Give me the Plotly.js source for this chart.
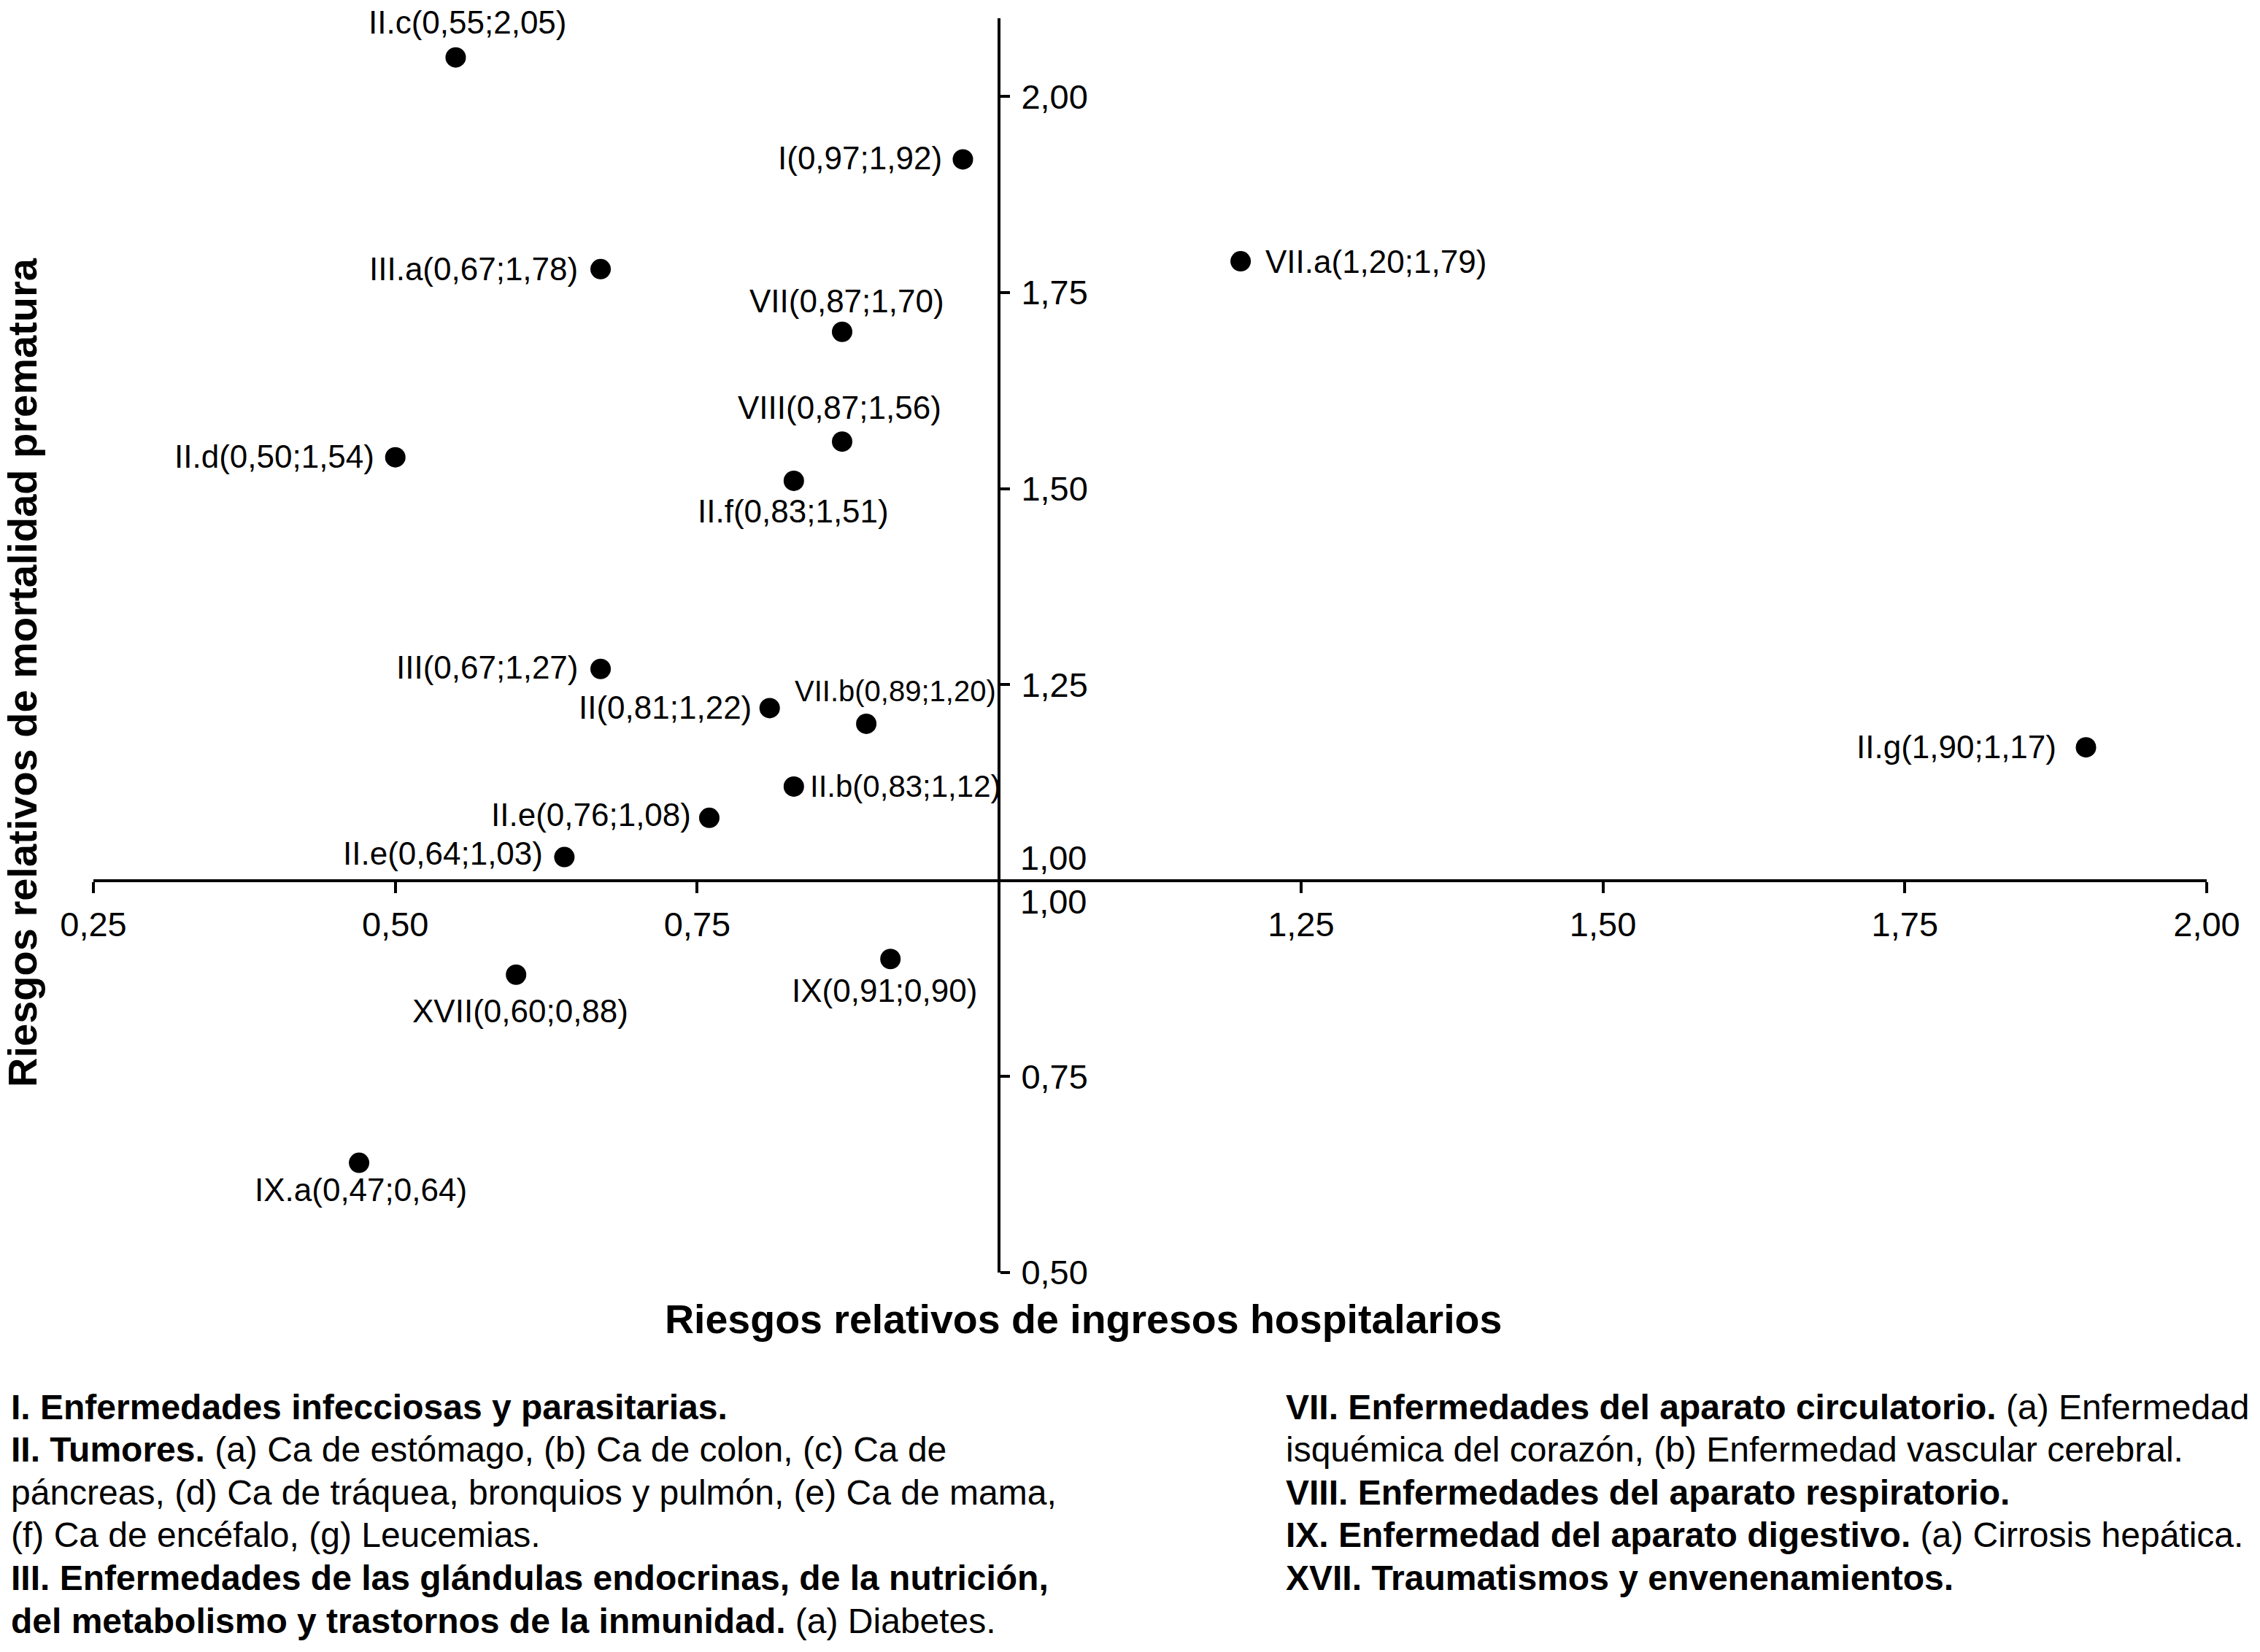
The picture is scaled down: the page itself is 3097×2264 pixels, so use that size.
<!DOCTYPE html>
<html>
<head>
<meta charset="utf-8">
<script src="https://cdn.plot.ly/plotly-3.0.1.min.js"></script>
<style>html,body{margin:0;padding:0;background:#fff;}#chart{width:3097px;height:2264px;}</style>
</head>
<body>
<div id="chart"></div>
<script>
// ---- data ----
const codes = ['II.c','I','III.a','VII','VIII','II.d','II.f','III','II','VII.b','II.b','II.e','II.e','VII.a','II.g','XVII','IX','IX.a'];
const ingresos = [0.55,0.97,0.67,0.87,0.87,0.50,0.83,0.67,0.81,0.89,0.83,0.76,0.64,1.20,1.90,0.60,0.91,0.47];
const mortalidad = [2.05,1.92,1.78,1.70,1.56,1.54,1.51,1.27,1.22,1.20,1.12,1.08,1.03,1.79,1.17,0.88,0.90,0.64];
const xTickVals = [0.25,0.50,0.75,1.25,1.50,1.75,2.00];
const xTickText = ['0,25','0,50','0,75','1,25','1,50','1,75','2,00'];
const yTickVals = [0.50,0.75,1.25,1.50,1.75,2.00];
const yTickText = ['0,50','0,75','1,25','1,50','1,75','2,00'];
const crossLabel = '1,00';
const xTitle = 'Riesgos relativos de ingresos hospitalarios';
const yTitle = 'Riesgos relativos de mortalidad prematura';
const notesLeft = [
  '<b>I. Enfermedades infecciosas y parasitarias.</b>',
  '<b>II. Tumores.</b> (a) Ca de estómago, (b) Ca de colon, (c) Ca de',
  'páncreas, (d) Ca de tráquea, bronquios y pulmón, (e) Ca de mama,',
  '(f) Ca de encéfalo, (g) Leucemias.',
  '<b>III. Enfermedades de las glándulas endocrinas, de la nutrición,</b>',
  '<b>del metabolismo y trastornos de la inmunidad.</b> (a) Diabetes.'
];
const notesRight = [
  '<b>VII. Enfermedades del aparato circulatorio.</b> (a) Enfermedad',
  'isquémica del corazón, (b) Enfermedad vascular cerebral.',
  '<b>VIII. Enfermedades del aparato respiratorio.</b>',
  '<b>IX. Enfermedad del aparato digestivo.</b> (a) Cirrosis hepática.',
  '<b>XVII. Traumatismos y envenenamientos.</b>'
];

// ---- style / layout ----
const W = 3097, H = 2264;
const M = {l:128, r:73, t:25, b:520};
const PW = W - M.l - M.r, PH = H - M.t - M.b;
const FONT = '"Liberation Sans", Arial, Helvetica, sans-serif';
const px2x = px => (px - M.l) / PW;
const py2y = py => (H - M.b - py) / PH;
// label placement per point: side L (left of dot), R (right), T (above), B (below); gap/dx, dy in px (down positive)
const labelPlace = [
  {s:'T', dx:16, dy:-48}, {s:'L', g:27, dy:-2}, {s:'L', g:29, dy:0}, {s:'T', dx:6, dy:-42},
  {s:'T', dx:-4, dy:-47}, {s:'L', g:27, dy:-1}, {s:'B', dx:-1, dy:42}, {s:'L', g:29, dy:-2},
  {s:'L', g:23, dy:-1}, {s:'TR', dx:180, dy:-45, size:40}, {s:'R', g:20, dy:0, size:42}, {s:'L', g:23, dy:-4},
  {s:'L', g:27, dy:-5}, {s:'R', g:32, dy:0}, {s:'L', g:39, dy:-1}, {s:'B', dx:6, dy:50},
  {s:'B', dx:-8, dy:43}, {s:'B', dx:2, dy:37}
];
const fmt = v => v.toFixed(2).replace('.', ',');

const annotations = [];
codes.forEach((c, i) => {
  const p = labelPlace[i];
  const a = {x: ingresos[i], y: mortalidad[i], xref:'x', yref:'y', showarrow:false,
    text: c + '(' + fmt(ingresos[i]) + ';' + fmt(mortalidad[i]) + ')',
    font:{family:FONT, size:p.size || 44, color:'#000'}, yanchor:'middle', yshift: -p.dy};
  if (p.s === 'L') { a.xanchor = 'right'; a.xshift = -p.g; }
  else if (p.s === 'R') { a.xanchor = 'left'; a.xshift = p.g; }
  else if (p.s === 'TR') { a.xanchor = 'right'; a.xshift = p.dx; }
  else { a.xanchor = 'center'; a.xshift = p.dx; }
  annotations.push(a);
});
// 1,00 labels at the crossing of the axes
annotations.push({x:1.0, y:1.0, xref:'x', yref:'y', showarrow:false, text:crossLabel,
  xanchor:'left', yanchor:'middle', xshift:27, yshift:31, font:{family:FONT, size:47, color:'#000'}});
annotations.push({x:1.0, y:1.0, xref:'x', yref:'y', showarrow:false, text:crossLabel,
  xanchor:'left', yanchor:'middle', xshift:27, yshift:-29, font:{family:FONT, size:47, color:'#000'}});
// axis titles
annotations.push({x:px2x(1484), y:py2y(1808), xref:'paper', yref:'paper', showarrow:false, text:'<b>'+xTitle+'</b>',
  xanchor:'center', yanchor:'middle', font:{family:FONT, size:55.5, color:'#000'}});
annotations.push({x:px2x(30), y:py2y(922), xref:'paper', yref:'paper', showarrow:false, text:'<b>'+yTitle+'</b>',
  textangle:-90, xanchor:'center', yanchor:'middle', font:{family:FONT, size:56, color:'#000'}});
// notes
const noteY0 = 1928, notePitch = 58.6;
notesLeft.forEach((t, i) => annotations.push({x:px2x(13), y:py2y(noteY0 + i*notePitch), xref:'paper', yref:'paper',
  showarrow:false, text:t, xanchor:'left', yanchor:'middle', align:'left', font:{family:FONT, size:48, color:'#000'}}));
notesRight.forEach((t, i) => annotations.push({x:px2x(1760), y:py2y(noteY0 + i*notePitch), xref:'paper', yref:'paper',
  showarrow:false, text:t, xanchor:'left', yanchor:'middle', align:'left', font:{family:FONT, size:48, color:'#000'}}));

const trace = {x: ingresos, y: mortalidad, type:'scatter', mode:'markers',
  marker:{size:28, color:'#000', line:{width:0}}, hoverinfo:'skip', cliponaxis:false};

const layout = {
  width: W, height: H, autosize:false,
  margin: M, paper_bgcolor:'#fff', plot_bgcolor:'#fff', showlegend:false,
  font:{family:FONT, color:'#000'},
  xaxis: {range:[0.25, 2.0], anchor:'free', position: py2y(1207), showgrid:false, zeroline:false,
    showline:true, linecolor:'#000', linewidth:4, ticks:'outside', ticklen:15, tickwidth:4, tickcolor:'#000',
    tickvals:xTickVals, ticktext:xTickText, tickfont:{family:FONT, size:47, color:'#000'}, ticklabelstandoff:3},
  yaxis: {range:[0.5, 2.1], anchor:'free', position: px2x(1369), side:'right', showgrid:false, zeroline:false,
    showline:true, linecolor:'#000', linewidth:4, ticks:'outside', ticklen:13, tickwidth:4, tickcolor:'#000',
    tickvals:yTickVals, ticktext:yTickText, tickfont:{family:FONT, size:47, color:'#000'}, ticklabelstandoff:6},
  annotations: annotations
};
Plotly.newPlot('chart', [trace], layout, {displayModeBar:false, staticPlot:true});
</script>
</body>
</html>
